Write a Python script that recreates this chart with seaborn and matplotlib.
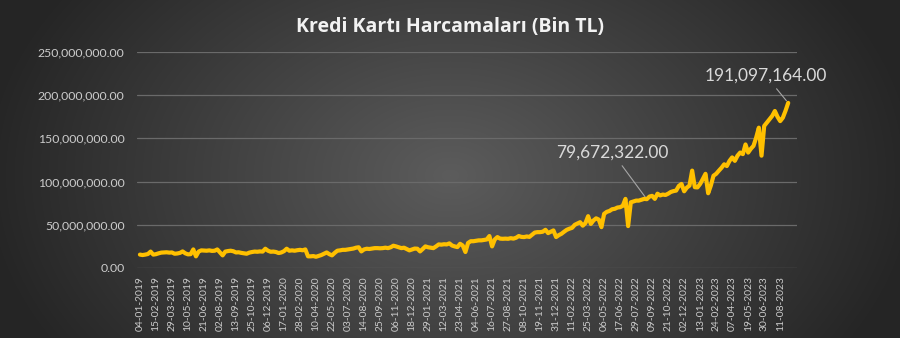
import numpy as np
import pandas as pd
import matplotlib
matplotlib.use("Agg")
import matplotlib.pyplot as plt
import seaborn as sns

# ---- data (millions of TL, weekly from 04-01-2019) ----
start_date = "2019-01-04"
values_m = [
    15.5, 15.0, 15.5, 16.2, 19.0, 15.5, 16.0, 17.0, 17.8, 18.0,
    18.2, 17.8, 18.0, 16.5, 16.8, 17.5, 19.2, 17.0, 15.8, 16.0,
    21.5, 13.5, 19.0, 20.4, 20.2, 20.0, 20.4, 19.8, 20.0, 21.5,
    18.0, 14.6, 19.0, 19.6, 20.0, 19.4, 18.0, 18.2, 17.5, 17.0,
    16.5, 17.8, 18.5, 19.0, 18.8, 19.2, 19.0, 22.3, 20.0, 18.8,
    19.0, 18.5, 17.3, 18.0, 19.5, 22.3, 20.0, 20.4, 20.0, 20.6,
    21.0, 20.5, 21.5, 13.5, 13.5, 13.8, 13.0, 14.0, 15.0, 16.5,
    18.0, 16.0, 14.6, 17.5, 20.0, 20.4, 21.0, 21.0, 21.5, 22.0,
    22.5, 23.5, 24.0, 19.2, 21.5, 22.3, 22.0, 22.5, 23.0, 23.0,
    22.8, 23.0, 23.5, 23.0, 24.0, 25.8, 25.0, 24.0, 23.0, 23.5,
    22.0, 20.4, 21.5, 22.5, 22.3, 19.2, 22.0, 25.0, 24.0, 23.5,
    23.0, 25.0, 27.3, 27.0, 27.5, 27.3, 28.5, 26.0, 25.0, 24.2,
    28.0, 26.0, 18.5, 29.0, 31.0, 31.0, 31.5, 32.0, 32.0, 32.5,
    33.0, 37.0, 25.0, 33.0, 35.8, 34.0, 33.8, 34.0, 33.8, 34.5,
    34.0, 35.0, 37.0, 36.0, 35.8, 36.5, 36.0, 38.5, 41.0, 41.5,
    41.5, 42.0, 44.2, 40.4, 42.0, 43.5, 35.8, 38.0, 39.6, 42.0,
    44.2, 45.5, 46.5, 50.0, 51.5, 53.0, 49.0, 52.0, 60.0, 51.0,
    55.0, 57.5, 56.0, 47.3, 62.7, 65.0, 66.0, 68.0, 68.5, 70.0,
    70.4, 72.0, 80.0, 48.5, 76.0, 77.0, 78.0, 78.0, 79.0, 80.0,
    79.672322, 82.7, 83.5, 80.0, 86.0, 84.0, 85.0, 84.5, 86.0, 88.0,
    89.0, 89.6, 95.0, 97.3, 88.8, 93.0, 95.4, 112.7, 93.5, 93.3,
    97.3, 103.0, 109.0, 86.5, 95.4, 106.8, 109.0, 112.6, 116.0, 120.0,
    118.0, 124.0, 128.0, 124.0, 130.0, 133.6, 131.8, 143.0, 133.6, 138.0,
    141.4, 151.0, 162.4, 130.0, 164.4, 168.2, 172.0, 176.0, 181.7, 175.0,
    170.0, 174.0, 182.0, 191.097164,
]
yticks_vals = [0, 50_000_000, 100_000_000, 150_000_000, 200_000_000, 250_000_000]
title_text = "Kredi Kartı Harcamaları (Bin TL)"
label_mid = "79,672,322.00"
label_end = "191,097,164.00"
mid_index = 190

dates = pd.date_range(start_date, periods=len(values_m), freq="7D")
df = pd.DataFrame({"idx": np.arange(len(values_m)),
                   "value": np.array(values_m) * 1e6,
                   "date": dates})

sns.set_theme(style="white")
plt.rcParams["font.family"] = ["Lato", "DejaVu Sans"]

W, H = 900, 338
fig = plt.figure(figsize=(W / 100, H / 100), dpi=100)

# radial gradient background
bg = fig.add_axes([0, 0, 1, 1], zorder=-10)
yy, xx = np.mgrid[0:H, 0:W]
r = np.sqrt(((xx - 450) / 470.0) ** 2 + ((yy - 175) / 330.0) ** 2)
r = np.clip(r, 0, 1)
c_in = np.array([0x5c, 0x5c, 0x5c]) / 255
c_out = np.array([0x25, 0x25, 0x25]) / 255
img = c_in[None, None, :] * (1 - r[..., None]) + c_out[None, None, :] * r[..., None]
bg.imshow(img, aspect="auto", extent=[0, 1, 0, 1])
bg.axis("off")

ax = fig.add_axes([137 / W, 1 - 268 / H, (797 - 137) / W, (268 - 52) / H])
ax.set_facecolor("none")
sns.lineplot(data=df, x="idx", y="value", ax=ax, color="#FFC000",
             linewidth=3.0, zorder=5)

ax.set_xlim(-1.1, 246.3)
ax.set_ylim(0, 250_000_000)
ax.set_yticks(yticks_vals)
ax.set_yticklabels([f"{v:,.2f}" for v in yticks_vals])
ticks = list(range(0, len(values_m), 6))
ax.set_xticks(ticks)
ax.set_xticklabels([dates[i].strftime("%d-%m-%Y") for i in ticks],
                   rotation=90, fontsize=7.4, color="#cccccc")
for lab in ax.get_yticklabels():
    lab.set_fontsize(8.8)
    lab.set_color("#cccccc")
ax.tick_params(axis="x", length=0, pad=6)
ax.tick_params(axis="y", length=0, pad=9)
ax.grid(axis="y", color="#6a6a6a", linewidth=0.9)
ax.grid(axis="x", visible=False)
for s in ax.spines.values():
    s.set_visible(False)
ax.set_xlabel("")
ax.set_ylabel("")

# annotations
ax.annotate(label_mid, xy=(mid_index, values_m[mid_index] * 1e6),
            xytext=(177, 134e6), ha="center", va="center",
            fontsize=12.5, color="#d9d9d9",
            arrowprops=dict(arrowstyle="-", color="#a6a6a6", lw=0.8,
                            shrinkA=2, shrinkB=2))
last = len(values_m) - 1
ax.annotate(label_end, xy=(last, values_m[last] * 1e6),
            xytext=(234.5, 223e6), ha="center", va="center",
            fontsize=12.5, color="#d9d9d9",
            arrowprops=dict(arrowstyle="-", color="#a6a6a6", lw=0.8,
                            shrinkA=2, shrinkB=2))

fig.text(0.5, 1 - 27 / H, title_text, ha="center", va="center",
         fontsize=14, fontweight="bold", color="#f2f2f2",
         family=["Open Sans", "DejaVu Sans"])

fig.savefig("out.png", dpi=100)
